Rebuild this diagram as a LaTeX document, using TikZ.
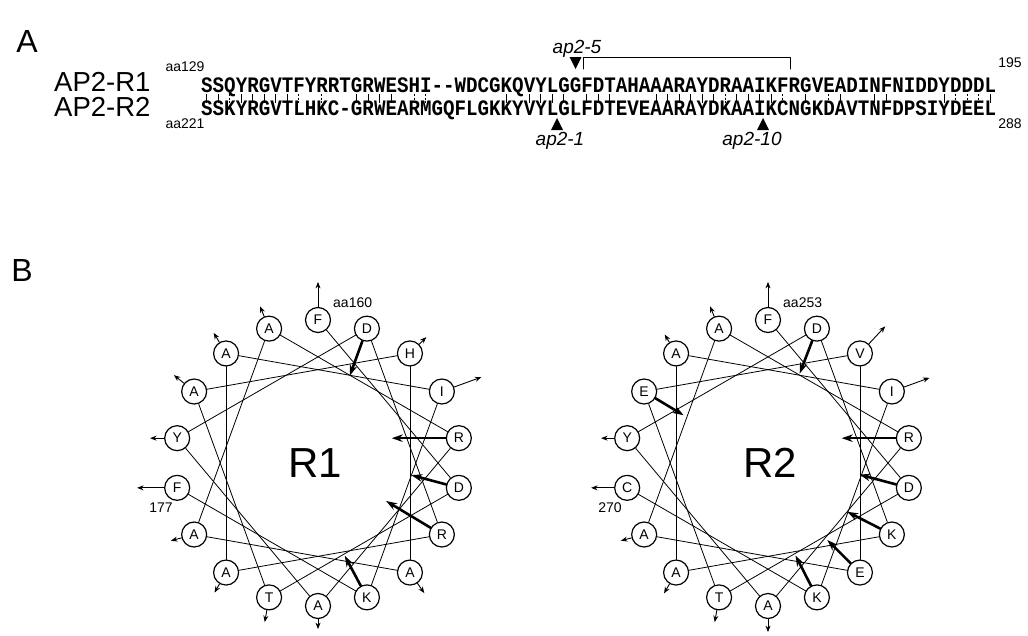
\documentclass[tikz,border=0pt]{standalone}
\usepackage{graphicx}
\usepackage{fontspec}
\setmainfont{Liberation Sans}
\newfontfamily\seqfont{Liberation Mono}
\usetikzlibrary{arrows.meta}

\begin{document}
\begin{tikzpicture}[x=1pt,y=1pt,>=stealth, line join=round, line cap=round,
	panel/.style={font=\fontsize{32}{32}\selectfont,inner sep=0pt},
	protname/.style={anchor=base west,font=\fontsize{27.5}{27.5}\selectfont,inner sep=0pt},
	aanum/.style={font=\fontsize{14}{14}\selectfont,inner sep=0pt},
	seqrow/.style={anchor=base west,font=\seqfont\bfseries\fontsize{19.2}{19.2}\selectfont,inner sep=0pt},
	allele/.style={anchor=base,font=\itshape\fontsize{19}{19}\selectfont,inner sep=0pt},
	idn/.style={line width=1pt,line cap=butt},
	sim/.style={line width=1pt,line cap=butt,dash pattern=on 2pt off 1.5pt},
	res/.style={circle,draw,line width=1.2pt,minimum size=25pt,inner sep=0pt,font=\fontsize{14}{14}\selectfont},
	helix/.style={line width=0.8pt},
	hyd/.style={-{Stealth[length=6.5pt,width=5pt]},line width=0.9pt},
	chg/.style={-{Stealth[length=11pt,width=7.5pt]},line width=2.6pt},
	wheelname/.style={font=\fontsize{42}{42}\selectfont,inner sep=0pt}]
	\useasboundingbox (0,0) rectangle (1028,-635);
	\def\w{11.52} \def\xo{201} % column width, first column
	% A: alignment
	\node[panel,anchor=base] (pA) at (27,-52) {A};
	\node[protname] (nm1) at (54,-91) {AP2-R1};
	\node[protname] (nm2) at (54,-116) {AP2-R2};
	\node[aanum] (st1) at (185,-67) {aa129};
	\node[aanum] (st2) at (185,-124) {aa221};
	\node[aanum] (en1) at (1010,-63) {195};
	\node[aanum] (en2) at (1010,-124) {288};
	\node[seqrow] (seq1) at (\xo,-92) {\scalebox{1}[1.15]{SSQYRGVTFYRRTGRWESHI-\kern0pt-WDCGKQVYLGGFDTAHAAARAYDRAAIKFRGVEADINFNIDDYDDDL}};
	\node[seqrow] (seq2) at (\xo,-115.5) {\scalebox{1}[1.15]{SSKYRGVTLHKC-GRWEARMGQFLGKKYVYLGLFDTEVEAARAYDKAAIKCNGKDAVTNFDPSIYDEEL}};
	\foreach \k in {1,2,4,5,6,7,8,14,15,16,17,27,29,30,31,32,34,35,36,40,41,42,43,44,45,47,48,49,50,53,56,59,60,65,69}
		\draw[idn] ({\xo+(\k-0.5)*\w},-94) -- ({\xo+(\k-0.5)*\w},-102.5);
	\foreach \k in {3,9,11,19,20,46,51,55,66,67,68}
		\draw[sim] ({\xo+(\k-0.5)*\w},-94) -- ({\xo+(\k-0.5)*\w},-102.5);
	% mutations
	\node[allele] (m5) at (577,-53) {ap2-5};
	\fill (569.5,-57) -- (581.5,-57) -- (575.5,-69) -- cycle;
	\draw[line width=1pt] (583,-69) -- (583,-57) -- (790,-57) -- (790,-69);
	\node[allele] (m1) at (560,-145) {ap2-1};
	\fill (551,-130) -- (563,-130) -- (557,-118) -- cycle;
	\node[allele] (m10) at (752,-145) {ap2-10};
	\fill (757,-130) -- (769,-130) -- (763,-118) -- cycle;
	% B: helical wheels
	\node[panel,anchor=base] (pB) at (22,-281) {B};
	\begin{scope}[shift={(318,-463)}]
		\foreach \i/\r in {1/F,2/D,3/T,4/A,5/H,6/A,7/A,8/A,9/R,10/A,11/Y,12/D,13/R,14/A,15/A,16/I,17/K,18/F}
			\node[res] (p\i) at ({90-100*(\i-1)}:143) {\r};
		\foreach \i [count=\j from 2] in {1,...,17}
			\draw[helix] (p\i) -- (p\j);
		\foreach \i/\d/\l/\s in {1/90/25/hyd,2/165/36/chg,3/260/12/hyd,4/141/13/hyd,5/45/10/hyd,6/305/12/hyd,7/195/11/hyd,8/112/11/hyd,9/180/54/chg,10/270/10/hyd,11/180/14/hyd,12/250/37/chg,13/149/52/chg,14/240/10/hyd,15/121/11/hyd,16/20/29/hyd,17/118/34/chg,18/180/27/hyd}{
			\path (p\i.\d) ++(\d:\l) coordinate (p\i-end);
			\draw[\s] (p\i.\d) -- (p\i-end);
		}
		\node[wheelname] (w1) at (-3,0) {R1};
		\node[aanum,anchor=base west] (p1-no) at (15,156) {aa160};
		\node[aanum] (p18-no) at (-157,-45) {177};
	\end{scope}
	\begin{scope}[shift={(768,-463)}]
		\foreach \i/\r in {1/F,2/D,3/T,4/E,5/V,6/E,7/A,8/A,9/R,10/A,11/Y,12/D,13/K,14/A,15/A,16/I,17/K,18/C}
			\node[res] (q\i) at ({90-100*(\i-1)}:143) {\r};
		\foreach \i [count=\j from 2] in {1,...,17}
			\draw[helix] (q\i) -- (q\j);
		\foreach \i/\d/\l/\s in {1/90/25/hyd,2/165/38/chg,3/260/12/hyd,4/329/33/chg,5/47/24/hyd,6/135/33/chg,7/195/11/hyd,8/112/11/hyd,9/180/54/chg,10/270/13/hyd,11/180/13/hyd,12/249/35/chg,13/153/37/chg,14/240/11/hyd,15/121/9/hyd,16/20/27/hyd,17/117/34/chg,18/180/23/hyd}{
			\path (q\i.\d) ++(\d:\l) coordinate (q\i-end);
			\draw[\s] (q\i.\d) -- (q\i-end);
		}
		\node[wheelname] (w2) at (2,0) {R2};
		\node[aanum,anchor=base west] (q1-no) at (15,156) {aa253};
		\node[aanum] (q18-no) at (-158,-45) {270};
	\end{scope}
\end{tikzpicture}
\end{document}
